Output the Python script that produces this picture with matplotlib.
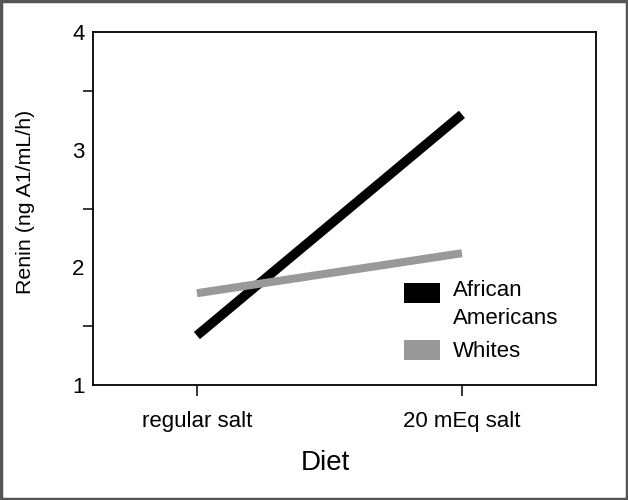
import matplotlib.pyplot as plt
from matplotlib.patches import Rectangle

# --- data ---
diets = ["regular salt", "20 mEq salt"]
african_americans = [1.42, 3.30]
whites = [1.78, 2.12]
series_names = ["African\nAmericans", "Whites"]
y_major = [1, 2, 3, 4]
y_minor = [1.5, 2.5, 3.5]

plt.rcParams['font.family'] = ['Liberation Sans', 'DejaVu Sans']

fig = plt.figure(figsize=(6.28, 5.0), dpi=100)
ax = fig.add_axes([0.1481, 0.23, 0.801, 0.706])

x = list(range(len(diets)))
ax.plot(x, african_americans, color='black', lw=6.8, solid_capstyle='butt')
ax.plot(x, whites, color='#999999', lw=5.8, solid_capstyle='butt')

ax.set_xlim(-0.392, 1.506)
ax.set_ylim(1, 4)
ax.set_xticks(x)
ax.set_xticklabels(diets, fontsize=16)
ax.set_yticks(y_major)
ax.set_yticklabels([str(v) for v in y_major], fontsize=16)
ax.set_yticks(y_minor, minor=True)
ax.tick_params(axis='y', which='major', length=0, pad=6)
ax.tick_params(axis='y', which='minor', length=7.2, width=1.1, direction='out')
ax.tick_params(axis='x', length=8, width=1.1, direction='out', pad=11)
for s in ax.spines.values():
    s.set_linewidth(1.3)

ax.set_xlabel("Diet", fontsize=20)
ax.xaxis.set_label_coords(0.461, -0.185)
ax.set_ylabel("Renin (ng A1/mL/h)", fontsize=15.4)
ax.yaxis.set_label_coords(-0.115, 0.52)

# manual legend
ax.add_patch(Rectangle((0.618, 0.232), 0.0716, 0.0567, transform=ax.transAxes,
                       facecolor='black', edgecolor='none'))
ax.add_patch(Rectangle((0.618, 0.0708), 0.0716, 0.0567, transform=ax.transAxes,
                       facecolor='#999999', edgecolor='none'))
ax.text(0.716, 0.297, series_names[0], transform=ax.transAxes, fontsize=16,
        va='top', ha='left', linespacing=1.4)
ax.text(0.716, 0.096, series_names[1], transform=ax.transAxes, fontsize=16,
        va='center', ha='left')

# outer frame
fig.patches.append(Rectangle((0.002, 0.002), 0.996, 0.996, transform=fig.transFigure,
                             fill=False, edgecolor='#555555', lw=2.5))

fig.savefig("out.png", dpi=100)
